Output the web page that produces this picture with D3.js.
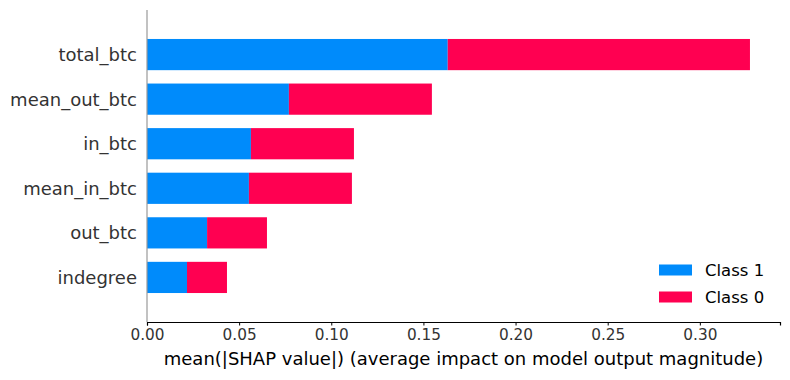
<!DOCTYPE html>
<html>
<head>
<meta charset="utf-8">
<script src="https://cdn.jsdelivr.net/npm/d3@7"></script>
<style>
  body { margin: 0; background: #fff; }
  text { font-family: "DejaVu Sans", sans-serif; }
</style>
</head>
<body>
<div id="chart"></div>
<script>
// features, top to bottom
var features = ["total_btc", "mean_out_btc", "in_btc", "mean_in_btc", "out_btc", "indegree"];
var class1 = [0.1632, 0.0770, 0.0564, 0.0553, 0.0326, 0.0217];
var class0 = [0.1640, 0.0776, 0.0559, 0.0559, 0.0325, 0.0217];
var classNames = ["Class 1", "Class 0"];
var classColors = ["#008bfb", "#ff0051"];
var xTicks = [0, 0.05, 0.10, 0.15, 0.20, 0.25, 0.30];

var width = 790;
var height = 380;
var padding = {left: 147, right: 10, top: 10, bottom: 58};

var svg = d3.select('#chart')
            .append('svg')
                .attr("width", width)
                .attr("height", height);

var g = svg.append("g")
            .attr("transform", "translate(" + padding.left + "," + padding.top + ")");

var canvasWidth = width - padding.left - padding.right;
var canvasHeight = height - padding.top - padding.bottom;

var xScale = d3.scaleLinear()
                .domain([0, 0.3435])
                .range([0, canvasWidth]);

// row index: bottom feature = 0, domain padded like matplotlib ylim
var yScale = d3.scaleLinear()
                .domain([-1, features.length])
                .range([canvasHeight, 0]);

var rowH = yScale(0) - yScale(1);
var barH = rowH * 0.7;

function rowIndex(i) { return features.length - 1 - i; }

// blue part
g.selectAll("rect.c1")
    .data(class1)
    .enter()
    .append("rect")
    .attr("class", "c1")
    .attr("fill", classColors[0])
    .attr("x", xScale(0))
    .attr("y", function(d, i){ return yScale(rowIndex(i)) - barH / 2; })
    .attr("width", function(d){ return xScale(d) - xScale(0); })
    .attr("height", barH);

// red part stacked
g.selectAll("rect.c0")
    .data(class0)
    .enter()
    .append("rect")
    .attr("class", "c0")
    .attr("fill", classColors[1])
    .attr("x", function(d, i){ return xScale(class1[i]); })
    .attr("y", function(d, i){ return yScale(rowIndex(i)) - barH / 2; })
    .attr("width", function(d, i){ return xScale(class1[i] + d) - xScale(class1[i]); })
    .attr("height", barH);

// x axis
var xAxis = g.append("g")
    .attr("transform", "translate(0," + canvasHeight + ")")
    .call(d3.axisBottom(xScale)
            .tickValues(xTicks)
            .tickFormat(d3.format(".2f"))
            .tickSize(3.5)
            .tickPadding(4));
xAxis.select(".domain").attr("stroke", "#000").attr("stroke-width", 1.2);
xAxis.selectAll(".tick line").attr("stroke", "#000");
xAxis.selectAll(".tick text")
    .attr("fill", "#333")
    .style("font-size", "15.3px")
    .style("font-family", "DejaVu Sans");

// left spine (gray, no ticks)
g.append("line")
    .attr("x1", 0).attr("x2", 0)
    .attr("y1", 0).attr("y2", canvasHeight)
    .attr("stroke", "#999")
    .attr("stroke-width", 1.2);

// feature labels
g.selectAll("text.feat")
    .data(features)
    .enter()
    .append("text")
    .attr("class", "feat")
    .attr("x", -10)
    .attr("y", function(d, i){ return yScale(rowIndex(i)); })
    .attr("dy", "0.36em")
    .attr("text-anchor", "end")
    .attr("fill", "#333")
    .style("font-size", "18px")
    .text(function(d){ return d; });

// x label
g.append("text")
    .attr("x", canvasWidth / 2)
    .attr("y", canvasHeight + 43)
    .attr("text-anchor", "middle")
    .attr("fill", "#000")
    .style("font-size", "18px")
    .text("mean(|SHAP value|) (average impact on model output magnitude)");

// legend
var legend = g.selectAll("g.legend")
    .data(classNames)
    .enter()
    .append("g")
    .attr("class", "legend")
    .attr("transform", function(d, i){
        return "translate(" + (659 - padding.left) + "," + (270 + i * 27 - padding.top) + ")";
    });

legend.append("rect")
    .attr("x", 0)
    .attr("y", -5.5)
    .attr("width", 33)
    .attr("height", 11)
    .attr("fill", function(d, i){ return classColors[i]; });

legend.append("text")
    .attr("x", 46)
    .attr("y", 0)
    .attr("dy", "0.36em")
    .attr("fill", "#000")
    .style("font-size", "16.5px")
    .text(function(d){ return d; });
</script>
</body>
</html>
